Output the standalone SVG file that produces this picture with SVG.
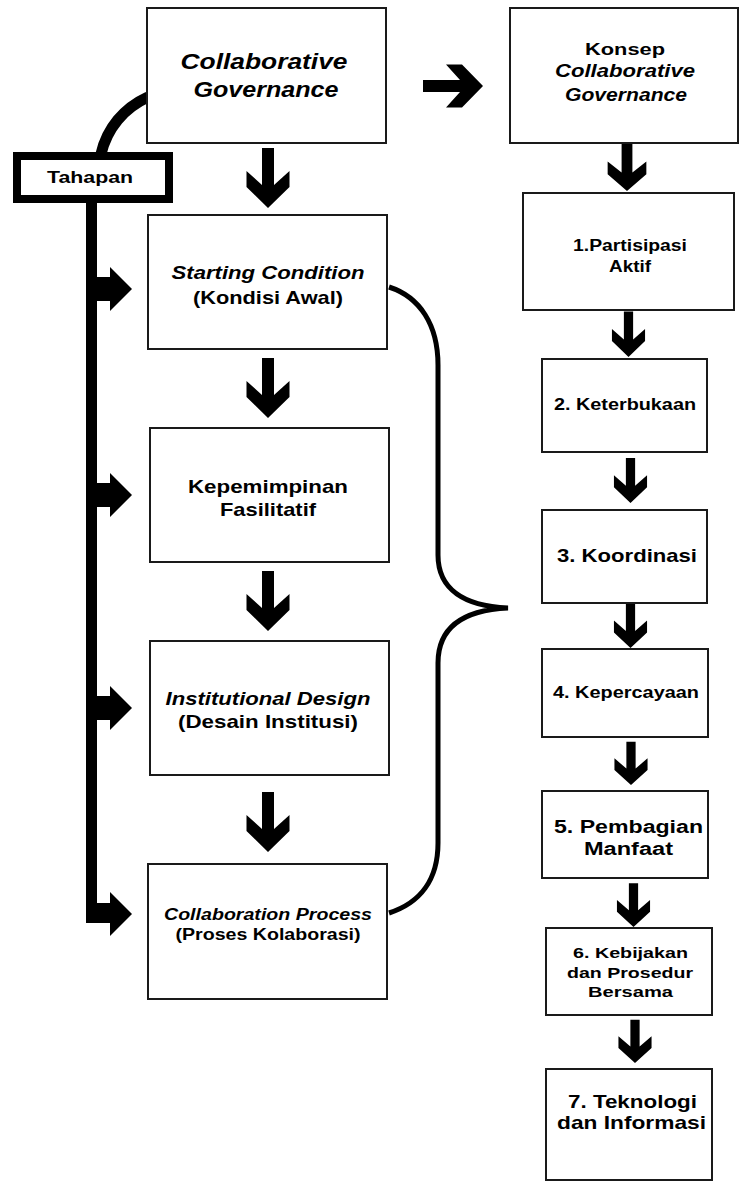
<svg xmlns="http://www.w3.org/2000/svg" width="739" height="1187" viewBox="0 0 739 1187">
<style>
.box{fill:#fff;stroke:#1a1a1a;stroke-width:2}
.t{font-family:"Liberation Sans",Arial,Helvetica,sans-serif;font-weight:bold;fill:#000;text-anchor:middle}
.i{font-style:italic}
.arr{fill:#000}
</style>
<defs>
<path id="dn" d="M-6,-60 L6,-60 L6,-23 L21.5,-37 L21.5,-21 L0,0 L-21.5,-21 L-21.5,-37 L-6,-23 Z"/>
</defs>
<rect width="739" height="1187" fill="#fff"/>
<g id="connectors">
<path d="M101,154 C107,128 124,108 148,97" fill="none" stroke="#000" stroke-width="11"/>
<rect x="86" y="198" width="11" height="725" fill="#000"/>
<g class="arr">
<path d="M97,277 L110,277 L110,267 L132,289 L110,311 L110,301 L97,301 Z"/>
<path d="M97,483 L110,483 L110,473 L132,495 L110,517 L110,507 L97,507 Z"/>
<path d="M97,696 L110,696 L110,686 L132,708 L110,730 L110,720 L97,720 Z"/>
<path d="M97,903 L110,903 L110,892 L132,914 L110,936 L110,923 L86,923 L86,903 Z"/>
<use href="#dn" transform="translate(268,208)"/>
<use href="#dn" transform="translate(268,418)"/>
<use href="#dn" transform="translate(268,631)"/>
<use href="#dn" transform="translate(268,852)"/>
<use href="#dn" transform="translate(483,86) rotate(-90)"/>
<use href="#dn" transform="translate(627,191) scale(0.9,0.8)"/>
<use href="#dn" transform="translate(628.5,357) scale(0.77,0.76)"/>
<use href="#dn" transform="translate(630.5,503) scale(0.77,0.75)"/>
<use href="#dn" transform="translate(630.5,648) scale(0.77,0.74)"/>
<use href="#dn" transform="translate(631,785) scale(0.77,0.72)"/>
<use href="#dn" transform="translate(633.5,927) scale(0.77,0.73)"/>
<use href="#dn" transform="translate(635,1063) scale(0.77,0.72)"/>
</g>
<path d="M389,287 C420,297 438,325 438,365 L438,555 C438,590 465,606 508,608 C465,610 438,626 438,663 L438,843 C438,880 420,903 389,913" fill="none" stroke="#000" stroke-width="5"/>
</g>
<g id="tahapan">
<rect x="17" y="156" width="152" height="43" fill="#fff" stroke="#000" stroke-width="8"/>
<text class="t" x="90" y="183" font-size="16" textLength="86" lengthAdjust="spacingAndGlyphs">Tahapan</text>
</g>
<g id="cg">
<rect class="box" x="147" y="8" width="239" height="135"/>
<text class="t i" x="264" y="69" font-size="22" textLength="167" lengthAdjust="spacingAndGlyphs">Collaborative</text>
<text class="t i" x="266" y="97" font-size="22" textLength="145" lengthAdjust="spacingAndGlyphs">Governance</text>
</g>
<g id="starting">
<rect class="box" x="148" y="215" width="239" height="134"/>
<text class="t i" x="268" y="279" font-size="19" textLength="193" lengthAdjust="spacingAndGlyphs">Starting Condition</text>
<text class="t" x="268" y="304" font-size="19" textLength="150" lengthAdjust="spacingAndGlyphs">(Kondisi Awal)</text>
</g>
<g id="kepemimpinan">
<rect class="box" x="150" y="428" width="239" height="134"/>
<text class="t" x="268" y="493" font-size="19" textLength="160" lengthAdjust="spacingAndGlyphs">Kepemimpinan</text>
<text class="t" x="268" y="516" font-size="19" textLength="96" lengthAdjust="spacingAndGlyphs">Fasilitatif</text>
</g>
<g id="institutional">
<rect class="box" x="150" y="641" width="239" height="134"/>
<text class="t i" x="268" y="705" font-size="19" textLength="205" lengthAdjust="spacingAndGlyphs">Institutional Design</text>
<text class="t" x="268" y="728" font-size="19" textLength="180" lengthAdjust="spacingAndGlyphs">(Desain Institusi)</text>
</g>
<g id="process">
<rect class="box" x="148" y="864" width="239" height="135"/>
<text class="t i" x="268" y="920" font-size="16" textLength="208" lengthAdjust="spacingAndGlyphs">Collaboration Process</text>
<text class="t" x="268" y="940" font-size="16" textLength="185" lengthAdjust="spacingAndGlyphs">(Proses Kolaborasi)</text>
</g>
<g id="konsep">
<rect class="box" x="510" y="8" width="228" height="135"/>
<text class="t" x="625" y="55" font-size="17" textLength="80" lengthAdjust="spacingAndGlyphs">Konsep</text>
<text class="t i" x="625" y="77" font-size="18" textLength="140" lengthAdjust="spacingAndGlyphs">Collaborative</text>
<text class="t i" x="626" y="101" font-size="18" textLength="122" lengthAdjust="spacingAndGlyphs">Governance</text>
</g>
<g id="k1">
<rect class="box" x="523" y="193" width="211" height="117"/>
<text class="t" x="630" y="251" font-size="16" textLength="114" lengthAdjust="spacingAndGlyphs">1.Partisipasi</text>
<text class="t" x="630" y="272" font-size="16" textLength="42" lengthAdjust="spacingAndGlyphs">Aktif</text>
</g>
<g id="k2">
<rect class="box" x="542" y="359" width="165" height="93"/>
<text class="t" x="625" y="410" font-size="16" textLength="142" lengthAdjust="spacingAndGlyphs">2. Keterbukaan</text>
</g>
<g id="k3">
<rect class="box" x="542" y="510" width="165" height="93"/>
<text class="t" x="627" y="562" font-size="19" textLength="140" lengthAdjust="spacingAndGlyphs">3. Koordinasi</text>
</g>
<g id="k4">
<rect class="box" x="542" y="649" width="166" height="88"/>
<text class="t" x="626" y="698" font-size="16" textLength="146" lengthAdjust="spacingAndGlyphs">4. Kepercayaan</text>
</g>
<g id="k5">
<rect class="box" x="542" y="791" width="166" height="87"/>
<text class="t" x="628.5" y="833" font-size="18" textLength="149" lengthAdjust="spacingAndGlyphs">5. Pembagian</text>
<text class="t" x="628.5" y="855" font-size="18" textLength="89" lengthAdjust="spacingAndGlyphs">Manfaat</text>
</g>
<g id="k6">
<rect class="box" x="546" y="928" width="166" height="87"/>
<text class="t" x="630.5" y="958" font-size="15.5" textLength="115" lengthAdjust="spacingAndGlyphs">6. Kebijakan</text>
<text class="t" x="630" y="978" font-size="15.5" textLength="126" lengthAdjust="spacingAndGlyphs">dan Prosedur</text>
<text class="t" x="630.5" y="997" font-size="15.5" textLength="85" lengthAdjust="spacingAndGlyphs">Bersama</text>
</g>
<g id="k7">
<rect class="box" x="546" y="1069" width="166" height="111"/>
<text class="t" x="632.5" y="1108" font-size="19" textLength="129" lengthAdjust="spacingAndGlyphs">7. Teknologi</text>
<text class="t" x="631.5" y="1129" font-size="19" textLength="149" lengthAdjust="spacingAndGlyphs">dan Informasi</text>
</g>
</svg>
